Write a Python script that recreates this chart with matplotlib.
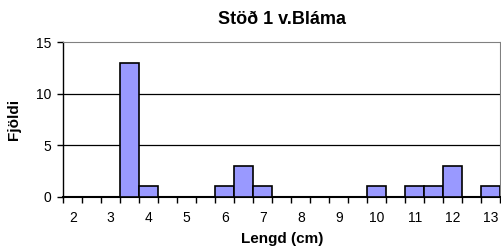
import numpy as np
import matplotlib.pyplot as plt

plt.rcParams['font.family'] = ['Liberation Sans', 'DejaVu Sans']

# length classes (cm) and counts
lengths = [2, 2.5, 3, 3.5, 4, 4.5, 5, 5.5, 6, 6.5, 7, 7.5, 8, 8.5, 9, 9.5,
           10, 10.5, 11, 11.5, 12, 12.5, 13]
counts = [0, 0, 0, 13, 1, 0, 0, 0, 1, 3, 1, 0, 0, 0, 0, 0,
          1, 0, 1, 1, 3, 0, 1]
yticks = [0, 5, 10, 15]

fig = plt.figure(figsize=(5.01, 2.52), dpi=100)
ax = fig.add_axes([0.1263, 0.2194, 0.8723, 0.6127])

x = np.arange(len(lengths))
ax.bar(x, counts, width=1.0, color="#9999FF", edgecolor="black", linewidth=1.2, zorder=3)

# gridlines
for y in yticks[1:-1]:
    ax.axhline(y, color="black", linewidth=0.9, zorder=1)

ax.set_xlim(-0.5, len(lengths) - 0.5)
ax.set_ylim(0, 15)

# spines
ax.spines["left"].set_color("black")
ax.spines["bottom"].set_color("black")
ax.spines["bottom"].set_linewidth(1.5)
ax.spines["left"].set_linewidth(1.0)
ax.spines["top"].set_color("#808080")
ax.spines["right"].set_color("#808080")

# y ticks
ax.set_yticks(yticks)
ax.tick_params(axis="y", direction="out", length=4, width=1, labelsize=10, pad=4.5)

# x ticks: marks at category boundaries, labels on every other category
ax.set_xticks(np.arange(len(lengths) + 1) - 0.5, minor=True)
ax.tick_params(axis="x", which="minor", direction="out", length=4, width=1)
ax.set_xticks(x[::2])
ax.set_xticklabels([f"{v:g}" for v in lengths[::2]])
ax.tick_params(axis="x", which="major", length=0, labelsize=10, pad=10)

ax.set_title("Stöð 1 v.Bláma", fontsize=13, fontweight="bold", pad=13)
ax.set_xlabel("Lengd (cm)", fontsize=11, fontweight="bold", labelpad=5)
ax.set_ylabel("Fjöldi", fontsize=11, fontweight="bold", labelpad=11)

fig.savefig("out.png", dpi=100)
